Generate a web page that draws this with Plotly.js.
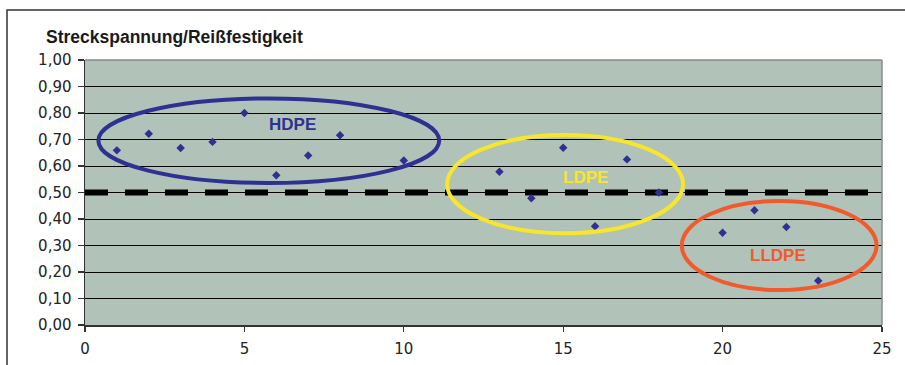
<!DOCTYPE html>
<html>
<head>
<meta charset="utf-8">
<script src="https://cdn.plot.ly/plotly-3.0.1.min.js"></script>
<style>html,body{margin:0;padding:0;background:#fff;}#chart{width:905px;height:365px;}</style>
</head>
<body>
<div id="chart"></div>
<script>
// Data
const sampleNo = [1, 2, 3, 4, 5, 6, 7, 8, 10, 13, 14, 15, 16, 17, 18, 20, 21, 22, 23];
const strength = [0.659, 0.722, 0.668, 0.691, 0.800, 0.565, 0.640, 0.716, 0.621,
                  0.578, 0.478, 0.669, 0.373, 0.625, 0.500, 0.348, 0.433, 0.370, 0.167];
const thresholdX = [0, 25];
const thresholdY = [0.5, 0.5];
const yTicks = [0, 0.1, 0.2, 0.3, 0.4, 0.5, 0.6, 0.7, 0.8, 0.9, 1.0];
const xTicks = [0, 5, 10, 15, 20, 25];
const groupNames = ['HDPE', 'LDPE', 'LLDPE'];
const groupColors = ['#2e3192', '#f7e62a', '#f15a2b'];

const W = 905, H = 365, L = 85, R = 23, T = 60, B = 40;
const pw = W - L - R, ph = H - T - B;
const px = v => (v - L) / pw;       // pixel -> paper x
const py = v => (H - B - v) / ph;   // pixel -> paper y

const traces = [
  {
    x: thresholdX, y: thresholdY, type: 'scatter', mode: 'lines',
    line: {color: '#000', width: 6, dash: '23px,17px'},
    hoverinfo: 'skip', showlegend: false
  },
  {
    x: sampleNo, y: strength, type: 'scatter', mode: 'markers',
    marker: {symbol: 'diamond', size: 6.5, color: '#2e3192', line: {width: 0}},
    showlegend: false
  }
];

const ellipses = [
  {x0: 0.42, x1: 11.11, y0: 0.536, y1: 0.855},
  {x0: 11.36, x1: 18.76, y0: 0.346, y1: 0.717},
  {x0: 18.72, x1: 24.83, y0: 0.132, y1: 0.468}
];
const labelPos = [
  {x: 6.52, y: 0.758},
  {x: 15.7, y: 0.555},
  {x: 21.74, y: 0.264}
];

const shapes = ellipses.map((e, i) => ({
  type: 'circle', xref: 'x', yref: 'y', x0: e.x0, x1: e.x1, y0: e.y0, y1: e.y1,
  line: {color: groupColors[i], width: 4}
}));
// plot area border top/right (gray)
shapes.push({type: 'line', xref: 'paper', yref: 'paper', x0: 0, x1: 1, y0: 1, y1: 1, line: {color: '#8a8a8a', width: 1.5}});
shapes.push({type: 'line', xref: 'paper', yref: 'paper', x0: 1, x1: 1, y0: 0, y1: 1, line: {color: '#8a8a8a', width: 1.5}});
// outer frame
shapes.push({type: 'rect', xref: 'paper', yref: 'paper', x0: px(7), x1: px(915), y0: py(375), y1: py(10),
  line: {color: '#333', width: 1.5}, fillcolor: 'rgba(0,0,0,0)'});

const annotations = groupNames.map((n, i) => ({
  text: '<b>' + n + '</b>', x: labelPos[i].x, y: labelPos[i].y, xref: 'x', yref: 'y',
  showarrow: false, font: {family: 'Liberation Sans, Arial, sans-serif', size: 17, color: groupColors[i]}
}));
annotations.push({
  text: '<b>Streckspannung/Reißfestigkeit</b>', xref: 'paper', yref: 'paper',
  x: px(44), y: py(37), xanchor: 'left', yanchor: 'middle', showarrow: false,
  font: {family: 'Liberation Sans, Arial, sans-serif', size: 17.5, color: '#1a1a1a'}
});

const layout = {
  width: W, height: H,
  margin: {l: L, r: R, t: T, b: B, pad: 0},
  paper_bgcolor: '#ffffff',
  plot_bgcolor: '#b1c3b8',
  separators: ',.',
  showlegend: false,
  font: {family: 'DejaVu Sans, sans-serif', size: 15, color: '#222'},
  xaxis: {
    range: [0, 25], tickvals: xTicks, ticks: 'outside', ticklen: 5, tickwidth: 1.2, tickcolor: '#333',
    ticklabelstandoff: 4,
    showgrid: false, zeroline: false, showline: true, linecolor: '#333', linewidth: 1.5,
    tickfont: {family: 'DejaVu Sans, sans-serif', size: 15, color: '#222'}, fixedrange: true
  },
  yaxis: {
    range: [0, 1], tickvals: yTicks, tickformat: '.2f', ticks: 'outside', ticklen: 6, tickwidth: 1.2, tickcolor: '#333',
    ticklabelstandoff: 3,
    showgrid: true, gridcolor: '#000', gridwidth: 1, zeroline: false, showline: true, linecolor: '#333', linewidth: 1.5,
    tickfont: {family: 'DejaVu Sans, sans-serif', size: 15, color: '#222'}, fixedrange: true
  },
  shapes: shapes,
  annotations: annotations
};

Plotly.newPlot('chart', traces, layout, {displayModeBar: false, staticPlot: true});
</script>
</body>
</html>
